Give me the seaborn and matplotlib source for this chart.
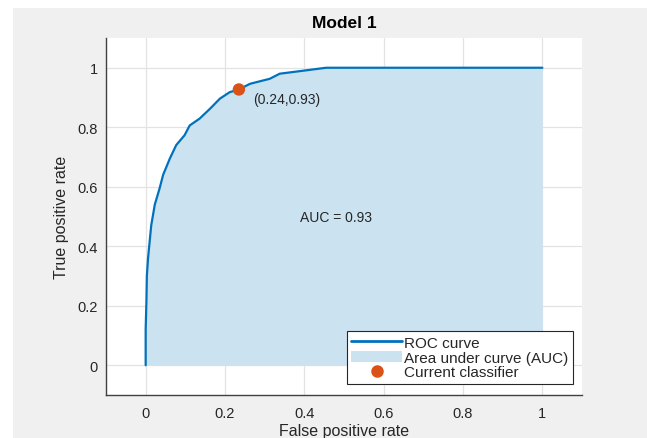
"""
ROC curve - Model 1 (estilo MATLAB Classification Learner).
"""
import matplotlib
matplotlib.use('Agg')
import matplotlib.pyplot as plt
import seaborn as sns
import pandas as pd
from matplotlib.lines import Line2D
from matplotlib.patches import Patch, Rectangle

# Dados
fpr = [0, 0, 0.002, 0.003, 0.006, 0.014, 0.023, 0.035, 0.044, 0.061, 0.077,
       0.098, 0.111, 0.136, 0.162, 0.187, 0.212, 0.235, 0.263, 0.313, 0.338,
       0.397, 0.455, 1.0]
tpr = [0, 0.12, 0.22, 0.30, 0.36, 0.47, 0.54, 0.594, 0.64, 0.695, 0.74,
       0.773, 0.806, 0.829, 0.862, 0.896, 0.918, 0.927, 0.946, 0.963, 0.98,
       0.99, 1.0, 1.0]
point_fpr = [0.235]
point_tpr = [0.927]
point_label = '(0.24,0.93)'
auc_label = 'AUC = 0.93'
ticks = [0, 0.2, 0.4, 0.6, 0.8, 1]
tick_labels = ['0', '0.2', '0.4', '0.6', '0.8', '1']

blue = '#0072BD'
orange = '#D95319'
fill_color = '#cbe2f1'
text_color = '#262626'

sns.set_theme(style='whitegrid')
plt.rcParams['font.family'] = ['Liberation Sans', 'DejaVu Sans']

fig = plt.figure(figsize=(6.47, 4.39), dpi=100)
fig.patch.set_facecolor('white')
# fundo cinza estilo MATLAB (com margem branca no topo e à esquerda)
bg = Rectangle((13 / 647, 0), 1 - 13 / 647, (439 - 9) / 439,
               transform=fig.transFigure, facecolor='#f0f0f0',
               edgecolor='none', zorder=-10)
fig.add_artist(bg)

ax = fig.add_axes([106 / 647, 43 / 439, 476 / 647, 357 / 439])
ax.set_facecolor('white')

df = pd.DataFrame({'fpr': fpr, 'tpr': tpr})
ax.fill_between(df['fpr'], 0, df['tpr'], color=fill_color, linewidth=0, zorder=1)
sns.lineplot(data=df, x='fpr', y='tpr', sort=False, estimator=None,
             color=blue, linewidth=1.6, ax=ax, zorder=3)
sns.scatterplot(x=point_fpr, y=point_tpr, color=orange, s=80, edgecolor='none',
                ax=ax, zorder=4)

ax.text(0.27, 0.896, point_label, fontsize=10, color=text_color, va='center', ha='left')
ax.text(0.389, 0.5, auc_label, fontsize=10, color=text_color, va='center', ha='left')

ax.set_xlim(-0.1, 1.1)
ax.set_ylim(-0.1, 1.1)
ax.set_xticks(ticks)
ax.set_xticklabels(tick_labels)
ax.set_yticks(ticks)
ax.set_yticklabels(tick_labels)
ax.tick_params(direction='in', length=3, width=0.8, colors='#404040',
               labelcolor=text_color, labelsize=10.5)
ax.tick_params(axis='x', pad=8)
ax.tick_params(axis='y', pad=6)
ax.grid(True, color='#e3e3e3', linewidth=0.9)

for side in ['top', 'right']:
    ax.spines[side].set_visible(False)
for side in ['left', 'bottom']:
    ax.spines[side].set_color('#404040')
    ax.spines[side].set_linewidth(1.0)

ax.set_xlabel('False positive rate', fontsize=11.5, color=text_color, labelpad=2)
ax.set_ylabel('True positive rate', fontsize=11.5, color=text_color, labelpad=6)
ax.set_title('Model 1', fontsize=12.5, fontweight='bold', color='black', pad=8)

handles = [
    Line2D([0], [0], color=blue, linewidth=2),
    Patch(facecolor=fill_color, edgecolor='none'),
    Line2D([0], [0], color=orange, marker='o', linestyle='none', markersize=8),
]
labels = ['ROC curve', 'Area under curve (AUC)', 'Current classifier']
leg = ax.legend(handles, labels, loc='lower right', bbox_to_anchor=(0.981, 0.031),
                fontsize=11, handlelength=3.3, handletextpad=0.15,
                labelspacing=0.05, borderpad=0.3, borderaxespad=0,
                fancybox=False, framealpha=1, edgecolor='#262626')
leg.get_frame().set_linewidth(0.8)
for t in leg.get_texts():
    t.set_color(text_color)

plt.savefig('out.png', dpi=100)
plt.close()
